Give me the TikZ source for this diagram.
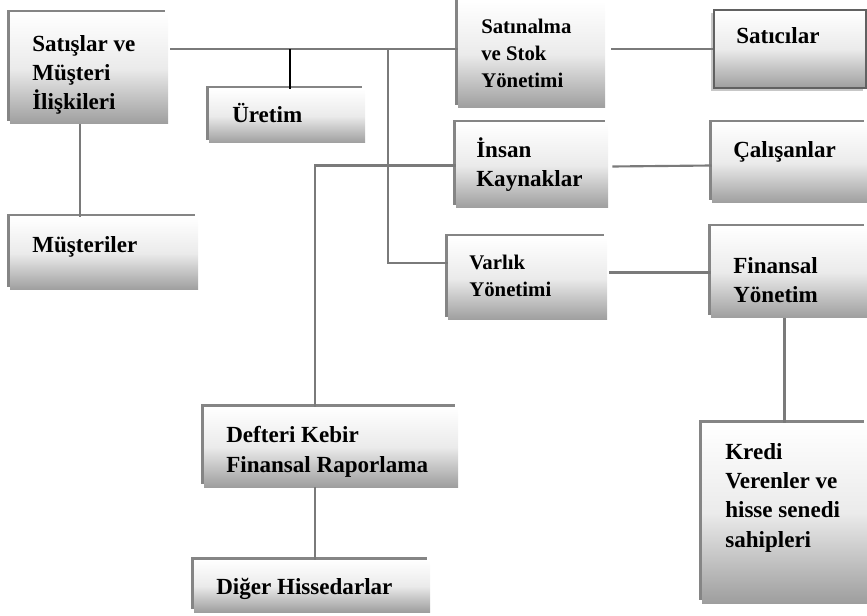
\documentclass[tikz,border=0pt]{standalone}
\usepackage{fontspec}
\setmainfont{Liberation Serif}
\usetikzlibrary{calc,fit,shadows}
\begin{document}
\begin{tikzpicture}[x=0.75pt,y=-0.75pt,
  box/.style={inner sep=0pt, draw=none, top color=white, bottom color=black!38,
    middle color=white!92!black, general shadow={fill=black!48, shadow xshift=-2pt, shadow yshift=2pt}},
  framedbox/.style={inner sep=0pt, draw=black!62, line width=1.3pt, top color=white,
    bottom color=black!38, middle color=white!92!black,
    general shadow={fill=black!22, shadow xshift=-2pt, shadow yshift=-2pt}},
  lbl/.style={inner sep=0pt, align=left, font=\bfseries\fontsize{17.3}{22}\selectfont},
  lblsm/.style={inner sep=0pt, align=left, font=\bfseries\fontsize{15.6}{20.25}\selectfont},
  conn/.style={draw=black!52, line width=1.6pt},
  connk/.style={draw=black, line width=1.5pt}]
\useasboundingbox (0,0) rectangle (867,616);

% boxes
\node[box, fit={(10,13) (168,124)}] (sat) {};
\node[box, fit={(209,89) (365,143)}] (ure) {};
\node[box, fit={(458,1) (605,108)}] (stok) {};
\node[framedbox, fit={(714,10) (866,88)}] (stc) {};
\node[box, fit={(456,123) (608,208)}] (ins) {};
\node[box, fit={(712,123) (867,203)}] (cal) {};
\node[box, fit={(448,237) (607,320)}] (var) {};
\node[box, fit={(711,227) (867,318)}] (fin) {};
\node[box, fit={(10,217) (198,290)}] (mus) {};
\node[box, fit={(204,407) (458,487)}] (def) {};
\node[box, fit={(194,560) (430,612)}] (dig) {};
\node[box, fit={(702,423) (867,603)}] (kre) {};

% labels, placed by the baseline of their last line
\node[lbl, anchor=base west] (satT) at (32,110) {Satışlar ve\\Müşteri\\İlişkileri};
\node[lbl, anchor=base west] (ureT) at (232,123) {Üretim};
\node[lblsm, anchor=base west] (stokT) at (481,88) {Satınalma\\ve Stok\\Yönetimi};
\node[lbl, anchor=base west] (stcT) at (736,44) {Satıcılar};
\node[lbl, anchor=base west] (insT) at (476,187) {İnsan\\Kaynaklar};
\node[lbl, anchor=base west] (calT) at (733,158) {Çalışanlar};
\node[lblsm, anchor=base west] (varT) at (469,297) {Varlık\\Yönetimi};
\node[lbl, anchor=base west] (finT) at (733,303) {Finansal\\Yönetim};
\node[lbl, anchor=base west] (musT) at (32,253) {Müşteriler};
\node[lbl, anchor=base west] (defT) at (226,472) {Defteri Kebir\\Finansal Raporlama};
\node[lbl, anchor=base west] (digT) at (216,594) {Diğer Hissedarlar};
\node[lbl, anchor=base west] (kreT) at (725,547) {Kredi\\Verenler ve\\hisse senedi\\sahipleri};

% junction points on the connector lines
\coordinate (busL) at ($(sat.north east)+(2,36)$);
\coordinate (busR) at ($(stok.north west)+(0,48)$);
\coordinate (jU) at (290,49);
\coordinate (jV) at (388,49);

% connectors
\draw[conn] (busL) -- (busR);
\draw[connk] (ure.north -| jU) -- (jU);
\draw[conn] (jV) |- ($(var.north west)+(0,26)$);
\draw[conn] ($(stok.east |- stc.west)+(6,0)$) -- (stc.west);
\draw[conn] (ins.west) -| ($(def.north west)+(111,0)$);
\draw[conn] ($(ins.east)+(4,1)$) -- (ins.east -| cal.west);
\draw[conn] ($(fin.west -| var.east)+(2,0)$) -- (fin.west);
\draw[conn] (kre.north) -- (kre.north |- fin.south);
\draw[conn] ($(sat.south west)+(70,0)$) -- ($(mus.north west)+(70,0)$);
\draw[conn] ($(def.south west)+(111,0)$) -- ($(dig.north west)+(121,0)$);
\end{tikzpicture}
\end{document}
